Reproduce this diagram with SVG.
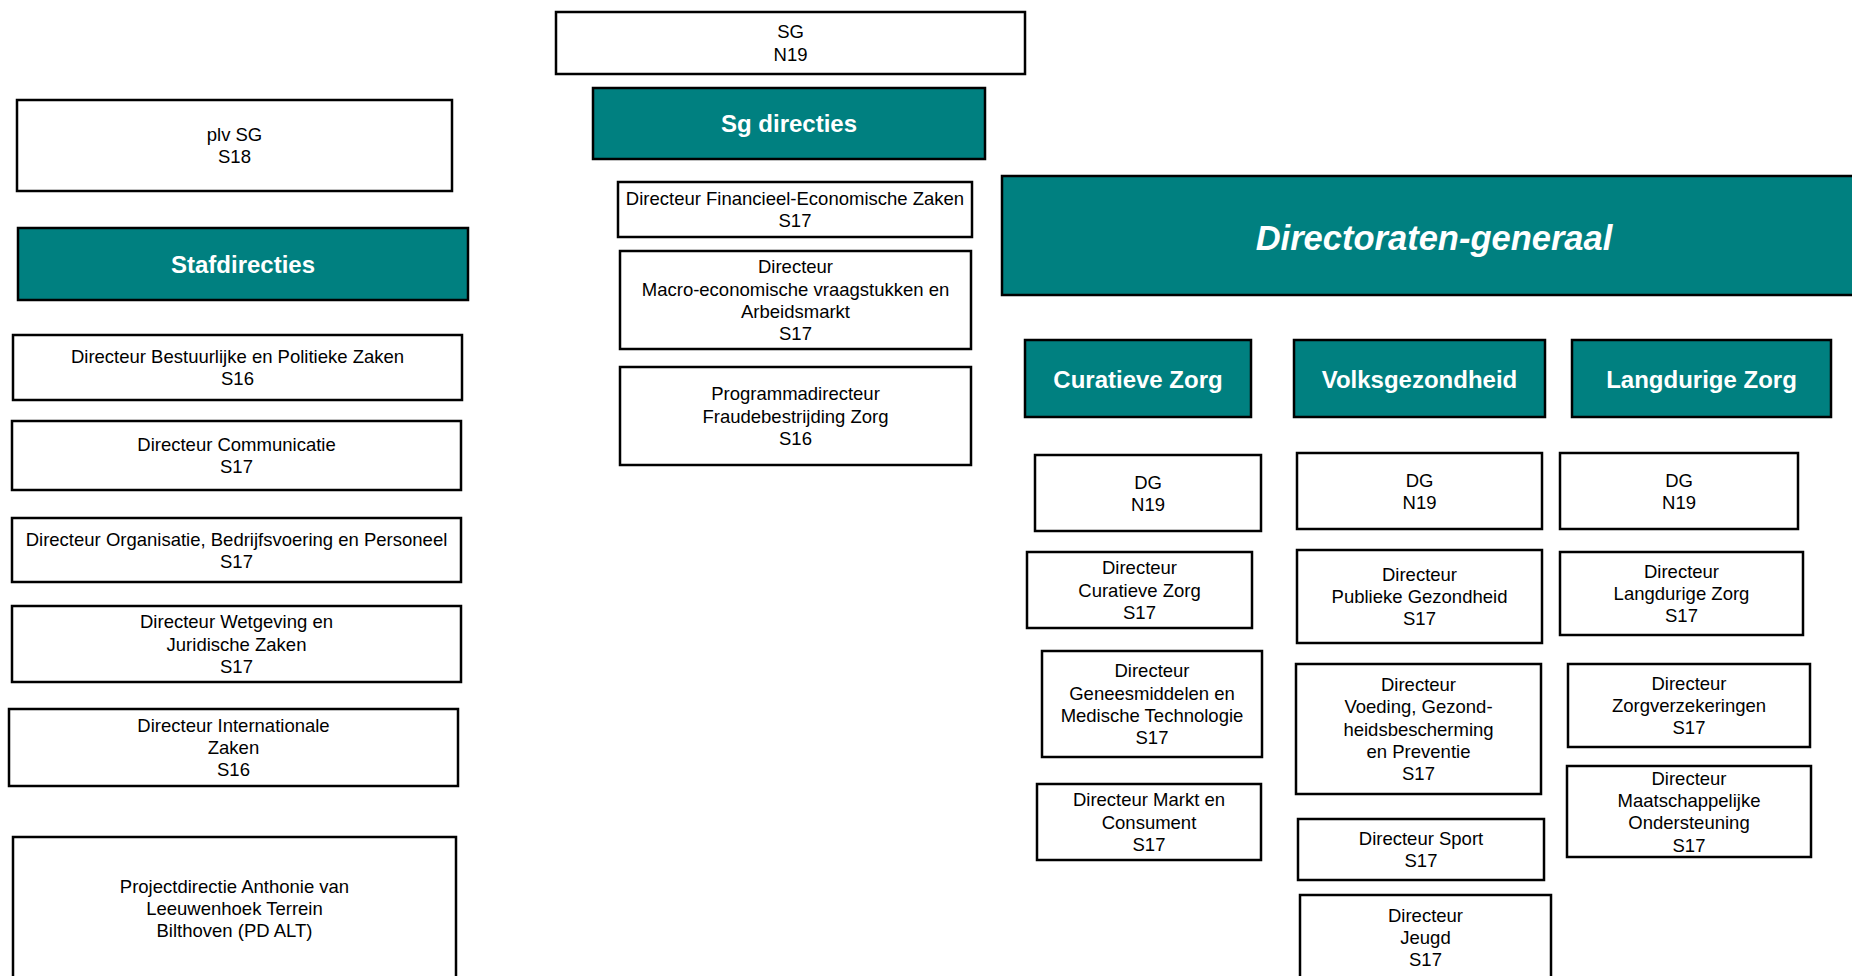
<svg xmlns="http://www.w3.org/2000/svg" width="1852" height="976" viewBox="0 0 1852 976">
<style>
.n rect{fill:#ffffff;stroke:#000000;stroke-width:2.5}
.h rect{fill:#008080;stroke:#000000;stroke-width:2.5}
.n text{font-family:"Liberation Sans",Arial,sans-serif;font-size:18.5px;fill:#000000;text-anchor:middle}
.h text{font-family:"Liberation Sans",Arial,sans-serif;font-size:24px;font-weight:bold;fill:#ffffff;text-anchor:middle}
</style>
<rect width="1852" height="976" fill="#ffffff"/>
<g id="connectors"></g>

<g id="sg" class="n"><rect x="556" y="12" width="469" height="62"/><text><tspan x="790.5" y="38.4">SG</tspan><tspan x="790.5" y="60.8">N19</tspan></text></g>
<g id="sg-directies" class="h"><rect x="593" y="88" width="392" height="71"/><text x="789" y="132">Sg directies</text></g>
<g id="dir-fez" class="n"><rect x="618" y="182" width="354" height="55"/><text><tspan x="795" y="205">Directeur Financieel-Economische Zaken</tspan><tspan x="795" y="227.3">S17</tspan></text></g>
<g id="dir-macro" class="n"><rect x="620" y="251" width="351" height="98"/><text><tspan x="795.5" y="273.2">Directeur</tspan><tspan x="795.5" y="295.5">Macro-economische vraagstukken en</tspan><tspan x="795.5" y="317.8">Arbeidsmarkt</tspan><tspan x="795.5" y="340.1">S17</tspan></text></g>
<g id="pd-fraude" class="n"><rect x="620" y="367" width="351" height="98"/><text><tspan x="795.5" y="400.3">Programmadirecteur</tspan><tspan x="795.5" y="422.6">Fraudebestrijding Zorg</tspan><tspan x="795.5" y="444.9">S16</tspan></text></g>

<g id="plv-sg" class="n"><rect x="17" y="100" width="435" height="91"/><text><tspan x="234.5" y="141">plv SG</tspan><tspan x="234.5" y="163.3">S18</tspan></text></g>
<g id="stafdirecties" class="h"><rect x="18" y="228" width="450" height="72"/><text x="243" y="272.6">Stafdirecties</text></g>
<g id="dir-bpz" class="n"><rect x="13" y="335" width="449" height="65"/><text><tspan x="237.5" y="363">Directeur Bestuurlijke en Politieke Zaken</tspan><tspan x="237.5" y="385.3">S16</tspan></text></g>
<g id="dir-com" class="n"><rect x="12" y="421" width="449" height="69"/><text><tspan x="236.5" y="451">Directeur Communicatie</tspan><tspan x="236.5" y="473.3">S17</tspan></text></g>
<g id="dir-obp" class="n"><rect x="12" y="518" width="449" height="64"/><text><tspan x="236.5" y="545.5">Directeur Organisatie, Bedrijfsvoering en Personeel</tspan><tspan x="236.5" y="567.8">S17</tspan></text></g>
<g id="dir-wjz" class="n"><rect x="12" y="606" width="449" height="76"/><text><tspan x="236.5" y="628.3">Directeur Wetgeving en</tspan><tspan x="236.5" y="650.6">Juridische Zaken</tspan><tspan x="236.5" y="672.9">S17</tspan></text></g>
<g id="dir-iz" class="n"><rect x="9" y="709" width="449" height="77"/><text><tspan x="233.5" y="731.8">Directeur Internationale</tspan><tspan x="233.5" y="754.1">Zaken</tspan><tspan x="233.5" y="776.4">S16</tspan></text></g>
<g id="pd-alt" class="n"><rect x="13" y="837" width="443" height="143"/><text><tspan x="234.5" y="892.8">Projectdirectie Anthonie van</tspan><tspan x="234.5" y="915.1">Leeuwenhoek Terrein</tspan><tspan x="234.5" y="937.4">Bilthoven (PD ALT)</tspan></text></g>

<g id="directoraten-generaal" class="h"><rect x="1002" y="176" width="864" height="119"/><text x="1434" y="250" style="font-size:34.5px;font-style:italic">Directoraten-generaal</text></g>
<g id="hdr-cz" class="h"><rect x="1025" y="340" width="226" height="77"/><text x="1138" y="388">Curatieve Zorg</text></g>
<g id="hdr-vg" class="h"><rect x="1294" y="340" width="251" height="77"/><text x="1419.5" y="388">Volksgezondheid</text></g>
<g id="hdr-lz" class="h"><rect x="1572" y="340" width="259" height="77"/><text x="1701.5" y="388">Langdurige Zorg</text></g>

<g id="dg-cz" class="n"><rect x="1035" y="455" width="226" height="76"/><text><tspan x="1148" y="488.5">DG</tspan><tspan x="1148" y="510.8">N19</tspan></text></g>
<g id="dg-vg" class="n"><rect x="1297" y="453" width="245" height="76"/><text><tspan x="1419.5" y="486.5">DG</tspan><tspan x="1419.5" y="508.8">N19</tspan></text></g>
<g id="dg-lz" class="n"><rect x="1560" y="453" width="238" height="76"/><text><tspan x="1679" y="486.5">DG</tspan><tspan x="1679" y="508.8">N19</tspan></text></g>

<g id="dir-cz" class="n"><rect x="1027" y="552" width="225" height="76"/><text><tspan x="1139.5" y="574.3">Directeur</tspan><tspan x="1139.5" y="596.6">Curatieve Zorg</tspan><tspan x="1139.5" y="618.9">S17</tspan></text></g>
<g id="dir-gmt" class="n"><rect x="1042" y="651" width="220" height="106"/><text><tspan x="1152" y="677.2">Directeur</tspan><tspan x="1152" y="699.5">Geneesmiddelen en</tspan><tspan x="1152" y="721.8">Medische Technologie</tspan><tspan x="1152" y="744.1">S17</tspan></text></g>
<g id="dir-mc" class="n"><rect x="1037" y="784" width="224" height="76"/><text><tspan x="1149" y="806.3">Directeur Markt en</tspan><tspan x="1149" y="828.6">Consument</tspan><tspan x="1149" y="850.9">S17</tspan></text></g>

<g id="dir-pg" class="n"><rect x="1297" y="550" width="245" height="93"/><text><tspan x="1419.5" y="580.8">Directeur</tspan><tspan x="1419.5" y="603.1">Publieke Gezondheid</tspan><tspan x="1419.5" y="625.4">S17</tspan></text></g>
<g id="dir-vgp" class="n"><rect x="1296" y="664" width="245" height="130"/><text><tspan x="1418.5" y="691">Directeur</tspan><tspan x="1418.5" y="713.3">Voeding, Gezond-</tspan><tspan x="1418.5" y="735.6">heidsbescherming</tspan><tspan x="1418.5" y="757.9">en Preventie</tspan><tspan x="1418.5" y="780.2">S17</tspan></text></g>
<g id="dir-sport" class="n"><rect x="1298" y="819" width="246" height="61"/><text><tspan x="1421" y="845">Directeur Sport</tspan><tspan x="1421" y="867.3">S17</tspan></text></g>
<g id="dir-jeugd" class="n"><rect x="1300" y="895" width="251" height="85"/><text><tspan x="1425.5" y="921.8">Directeur</tspan><tspan x="1425.5" y="944.1">Jeugd</tspan><tspan x="1425.5" y="966.4">S17</tspan></text></g>

<g id="dir-lz" class="n"><rect x="1560" y="552" width="243" height="83"/><text><tspan x="1681.5" y="577.8">Directeur</tspan><tspan x="1681.5" y="600.1">Langdurige Zorg</tspan><tspan x="1681.5" y="622.4">S17</tspan></text></g>
<g id="dir-zv" class="n"><rect x="1568" y="664" width="242" height="83"/><text><tspan x="1689" y="689.8">Directeur</tspan><tspan x="1689" y="712.1">Zorgverzekeringen</tspan><tspan x="1689" y="734.4">S17</tspan></text></g>
<g id="dir-mo" class="n"><rect x="1567" y="766" width="244" height="91"/><text><tspan x="1689" y="784.7">Directeur</tspan><tspan x="1689" y="807">Maatschappelijke</tspan><tspan x="1689" y="829.3">Ondersteuning</tspan><tspan x="1689" y="851.6">S17</tspan></text></g>
</svg>
